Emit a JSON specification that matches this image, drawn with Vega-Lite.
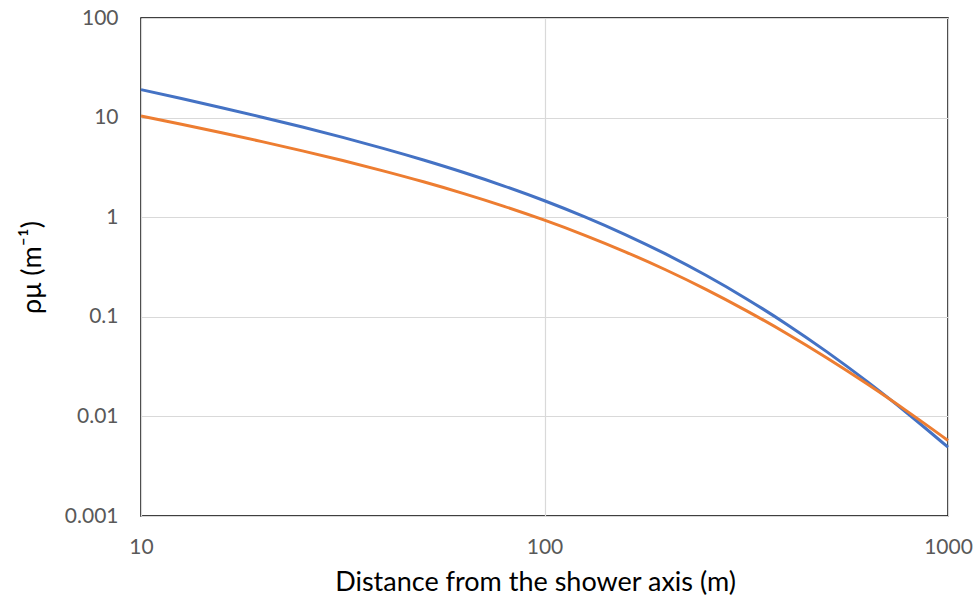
{
  "$schema": "https://vega.github.io/schema/vega-lite/v6.json",
  "autosize": "none",
  "width": 807,
  "height": 498,
  "padding": {"left": 141, "top": 18, "right": 30, "bottom": 81},
  "background": "white",
  "config": {
    "view": {"stroke": "#000000", "strokeWidth": 1.5},
    "font": "Lato"
  },
  "datasets": {
    "curves": [
      {"r": 10, "rho": 19.08, "series": "blue"},
      {"r": 12.59, "rho": 15.53, "series": "blue"},
      {"r": 15.85, "rho": 12.57, "series": "blue"},
      {"r": 19.95, "rho": 10.09, "series": "blue"},
      {"r": 25.12, "rho": 8.035, "series": "blue"},
      {"r": 31.62, "rho": 6.325, "series": "blue"},
      {"r": 39.81, "rho": 4.912, "series": "blue"},
      {"r": 50.12, "rho": 3.752, "series": "blue"},
      {"r": 63.1, "rho": 2.81, "series": "blue"},
      {"r": 79.43, "rho": 2.055, "series": "blue"},
      {"r": 100, "rho": 1.463, "series": "blue"},
      {"r": 125.9, "rho": 1.008, "series": "blue"},
      {"r": 158.5, "rho": 0.6699, "series": "blue"},
      {"r": 199.5, "rho": 0.4278, "series": "blue"},
      {"r": 251.2, "rho": 0.2611, "series": "blue"},
      {"r": 316.2, "rho": 0.1521, "series": "blue"},
      {"r": 398.1, "rho": 0.08432, "series": "blue"},
      {"r": 501.2, "rho": 0.04447, "series": "blue"},
      {"r": 631, "rho": 0.02235, "series": "blue"},
      {"r": 794.3, "rho": 0.0107, "series": "blue"},
      {"r": 1000, "rho": 0.004904, "series": "blue"},
      {"r": 10, "rho": 10.37, "series": "orange"},
      {"r": 12.59, "rho": 8.564, "series": "orange"},
      {"r": 15.85, "rho": 7.034, "series": "orange"},
      {"r": 19.95, "rho": 5.734, "series": "orange"},
      {"r": 25.12, "rho": 4.634, "series": "orange"},
      {"r": 31.62, "rho": 3.703, "series": "orange"},
      {"r": 39.81, "rho": 2.92, "series": "orange"},
      {"r": 50.12, "rho": 2.266, "series": "orange"},
      {"r": 63.1, "rho": 1.725, "series": "orange"},
      {"r": 79.43, "rho": 1.285, "series": "orange"},
      {"r": 100, "rho": 0.9331, "series": "orange"},
      {"r": 125.9, "rho": 0.6581, "series": "orange"},
      {"r": 158.5, "rho": 0.4496, "series": "orange"},
      {"r": 199.5, "rho": 0.2968, "series": "orange"},
      {"r": 251.2, "rho": 0.1887, "series": "orange"},
      {"r": 316.2, "rho": 0.1155, "series": "orange"},
      {"r": 398.1, "rho": 0.06804, "series": "orange"},
      {"r": 501.2, "rho": 0.03859, "series": "orange"},
      {"r": 631, "rho": 0.02112, "series": "orange"},
      {"r": 794.3, "rho": 0.01117, "series": "orange"},
      {"r": 1000, "rho": 0.005733, "series": "orange"}
    ]
  },
  "data": {"name": "curves"},
  "encoding": {
    "x": {
      "field": "r",
      "type": "quantitative",
      "scale": {"type": "log", "domain": [10, 1000], "nice": false},
      "axis": {
        "values": [10, 100, 1000],
        "format": "d",
        "title": "Distance from the shower axis (m)",
        "titleFont": "Lato",
        "titleFontSize": 27,
        "titleFontWeight": "normal",
        "titleColor": "#000000",
        "titlePadding": 12,
        "titleX": 394,
        "labelFont": "Lato",
        "labelFontSize": 21,
        "labelColor": "#595959",
        "labelPadding": 20,
        "labelFlush": false,
        "domain": false,
        "ticks": false,
        "grid": true,
        "gridColor": "#d9d9d9",
        "gridWidth": 1.2
      }
    },
    "y": {
      "field": "rho",
      "type": "quantitative",
      "scale": {"type": "log", "domain": [0.001, 100], "nice": false},
      "axis": {
        "values": [0.001, 0.01, 0.1, 1, 10, 100],
        "format": "~g",
        "title": "ρμ (m⁻¹)",
        "titleFont": "Lato",
        "titleFontSize": 27,
        "titleFontWeight": "normal",
        "titleColor": "#000000",
        "titlePadding": 18,
        "labelFont": "Lato",
        "labelFontSize": 21,
        "labelColor": "#595959",
        "labelPadding": 23,
        "labelFlush": false,
        "domain": false,
        "ticks": false,
        "grid": true,
        "gridColor": "#d9d9d9",
        "gridWidth": 1.2
      }
    }
  },
  "layer": [
    {
      "transform": [{"filter": "datum.series === 'blue'"}],
      "mark": {"type": "line", "interpolate": "monotone", "color": "#4472C4", "strokeWidth": 3}
    },
    {
      "transform": [{"filter": "datum.series === 'orange'"}],
      "mark": {"type": "line", "interpolate": "monotone", "color": "#ED7D31", "strokeWidth": 3}
    }
  ]
}
